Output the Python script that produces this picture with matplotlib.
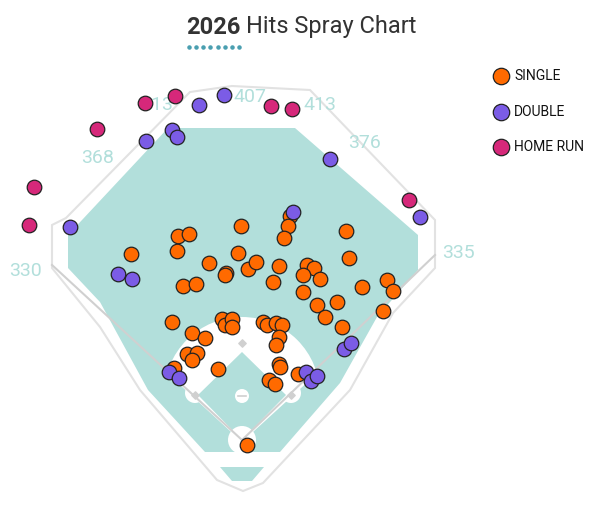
import numpy as np
import matplotlib.pyplot as plt
from matplotlib.patches import Polygon, Circle

# -----------------------------
# DATA (chart pixel coordinates, y downward)
# -----------------------------
single_x = [290, 288, 284, 241, 178, 189, 346, 131, 177, 238, 209, 226, 248, 256, 279, 307, 314,
            349, 183, 196, 225, 273, 303, 320, 303, 317, 325, 337, 342, 362, 387, 393, 383,
            172, 192, 205, 222, 225, 232, 232, 263, 267, 276, 282, 279, 276, 279, 280,
            187, 197, 192, 174, 218, 269, 275, 298, 247]
single_y = [216, 226, 238, 226, 236, 234, 231, 254, 251, 253, 263, 273, 269, 262, 266, 265, 268,
            258, 286, 284, 275, 282, 275, 279, 292, 305, 317, 302, 327, 287, 280, 291, 311,
            322, 333, 338, 319, 325, 319, 327, 322, 325, 323, 325, 337, 345, 364, 367,
            354, 353, 360, 368, 369, 380, 384, 374, 445]
double_x = [70, 146, 172, 177, 199, 224, 330, 420, 293, 118, 132, 169, 179, 306, 311, 317, 344, 351]
double_y = [227, 141, 130, 137, 105, 95, 159, 217, 212, 274, 279, 372, 378, 372, 381, 376, 349, 343]
hr_x = [34, 29, 97, 145, 175, 271, 292, 409]
hr_y = [187, 225, 129, 103, 96, 106, 109, 200]

dist_labels = ['330', '368', '413', '407', '413', '376', '335']
dist_x = [26, 98, 157, 250, 320, 365, 458]
dist_y = [271, 158, 105, 97, 105, 143, 253]

legend_labels = ['SINGLE', 'DOUBLE', 'HOME RUN']
colors = ['#ff6a00', '#7b5ce6', '#d6287a']

teal = '#b2dfdb'
line_gray = '#d0d0d0'

fig = plt.figure(figsize=(6, 5.31), dpi=100)
ax = fig.add_axes([0, 0, 1, 1])
ax.set_xlim(0, 600)
ax.set_ylim(531, 0)
ax.axis('off')

# outer wall
outer = [(243, 491), (217, 480), (140, 390), (100, 327), (52, 268), (52, 225), (66, 218),
         (190, 92), (232, 86), (310, 90), (435, 220), (435, 268), (393, 313), (350, 390),
         (263, 483)]
ax.add_patch(Polygon(outer, closed=True, fc='white', ec='#e2e2e2', lw=1.5, zorder=1))

# outfield grass
grass = [(205, 452), (148, 390), (100, 302), (68, 268), (68, 235), (168, 128), (295, 128),
         (418, 235), (418, 270), (377, 317), (340, 383), (280, 452)]
ax.add_patch(Polygon(grass, closed=True, fc=teal, ec='none', zorder=2))

# infield dirt, only inside the foul lines
fair = Polygon([(242, 442), (40, 256), (40, 0), (450, 0), (450, 252)], closed=True,
               fc='none', ec='none')
ax.add_patch(fair)
dirt = Circle((242, 395), 78, fc='white', ec='none', zorder=3)
ax.add_patch(dirt)
dirt.set_clip_path(fair)
for bx, by in [(291, 393), (195, 393)]:
    ax.add_patch(Circle((bx, by), 10, fc='white', ec='none', zorder=3))
ax.add_patch(Polygon([(242, 352), (286, 395), (242, 440), (198, 395)], closed=True,
                     fc=teal, ec='none', zorder=4))
# area behind home
ax.add_patch(Polygon([(220, 467), (264, 467), (252, 481), (232, 481)], closed=True,
                     fc=teal, ec='none', zorder=2))
ax.add_patch(Circle((242, 440), 14, fc='white', ec='none', zorder=4))
ax.add_patch(Circle((242, 396), 7, fc='white', ec='none', zorder=5))
ax.plot([238, 246], [396, 396], color=line_gray, lw=1.2, zorder=6)

# foul lines
ax.plot([242, 52], [440, 265], color=line_gray, lw=1.5, zorder=5)
ax.plot([242, 435], [440, 255], color=line_gray, lw=1.5, zorder=5)
for bx, by in [(242, 343), (291, 395), (195, 395)]:
    ax.scatter(bx, by, s=14, marker='D', color=line_gray, zorder=6)

for t, x, y in zip(dist_labels, dist_x, dist_y):
    ax.text(x, y, t, color=teal, fontsize=14, family='Roboto', ha='center', va='center', zorder=7)

# hits
for xs, ys, c in [(single_x, single_y, colors[0]), (double_x, double_y, colors[1]), (hr_x, hr_y, colors[2])]:
    ax.scatter(xs, ys, s=110, color=c, edgecolor='#222222', linewidth=0.9, zorder=8)

# legend
for i, (lab, c) in enumerate(zip(legend_labels, colors)):
    y = 76 + i * 35.5
    ax.scatter(501, y, s=140, color=c, edgecolor='#222222', linewidth=0.9, zorder=8)
    ax.text(514, y, lab, fontsize=10, family='Roboto', va='center', color='#111111')

# title
fig.canvas.draw()
t1 = ax.text(186, 27, '2026', fontsize=17, fontweight='bold', family='Roboto', ha='left',
             va='center', color='#333333')
bb = t1.get_window_extent(fig.canvas.get_renderer())
x_end = ax.transData.inverted().transform((bb.x1, 0))[0]
ax.text(x_end + 6, 27, 'Hits Spray Chart', fontsize=17, family='Roboto', ha='left',
        va='center', color='#333333')
ax.scatter(np.linspace(189, 239, 8), [47] * 8, s=5, color='#4a9fb0')

fig.savefig('out.png', dpi=100)
